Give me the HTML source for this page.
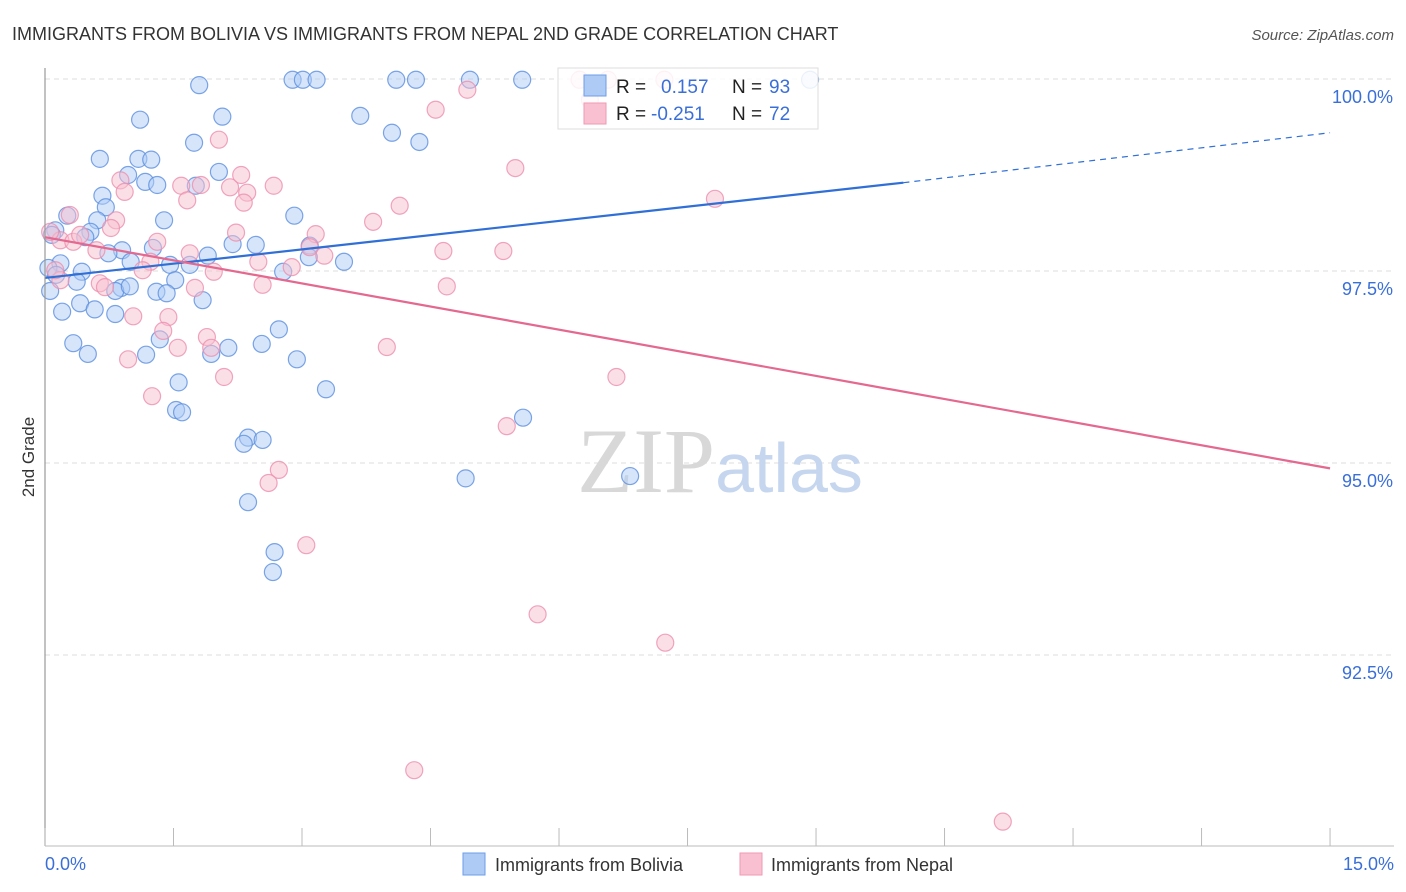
<!DOCTYPE html>
<html><head><meta charset="utf-8"><style>
body{margin:0;background:#fff;font-family:"Liberation Sans",sans-serif}
svg{display:block}
</style></head><body>
<svg width="1406" height="892" xmlns="http://www.w3.org/2000/svg">
<text x="12" y="40" font-size="18" fill="#333">IMMIGRANTS FROM BOLIVIA VS IMMIGRANTS FROM NEPAL 2ND GRADE CORRELATION CHART</text>
<text x="1394" y="40" font-size="15" fill="#555" text-anchor="end" font-style="italic">Source: ZipAtlas.com</text>
<text x="34" y="457" font-size="17" fill="#333" text-anchor="middle" transform="rotate(-90 34 457)">2nd Grade</text>
<g id="grid"></g>
<text x="720" y="492" font-size="92" fill="#d8d8d8" text-anchor="middle" font-family="Liberation Serif,serif">ZIP<tspan fill="#c5d6ee" font-family="Liberation Sans,sans-serif" font-size="70">atlas</tspan></text>
<g id="pts"></g>
<g id="lines"></g>
<line x1="45" y1="68" x2="45" y2="846" stroke="#999" stroke-width="1.2"/>
<line x1="45" y1="846" x2="1394" y2="846" stroke="#bbb"/>
<g id="xt"></g>
<text x="45" y="870" font-size="18" fill="#3a6fd8">0.0%</text>
<text x="1394" y="870" font-size="18" fill="#3a6fd8" text-anchor="end">15.0%</text>
<g>
<rect x="558" y="68" width="260" height="61" fill="#fff" fill-opacity="0.85" stroke="#ddd"/>
<rect x="584" y="75" width="22" height="21" fill="#aecbf5" stroke="#6f9ee8"/>
<rect x="584" y="103" width="22" height="21" fill="#f8c0d0" stroke="#ef9ab3"/>
<text x="616" y="93" font-size="19" fill="#222">R = </text><text x="661" y="93" font-size="19" fill="#3a6fd8">0.157</text>
<text x="732" y="93" font-size="19" fill="#222">N = </text><text x="769" y="93" font-size="19" fill="#3a6fd8">93</text>
<text x="616" y="120" font-size="19" fill="#222">R = </text><text x="651" y="120" font-size="19" fill="#3a6fd8">-0.251</text>
<text x="732" y="120" font-size="19" fill="#222">N = </text><text x="769" y="120" font-size="19" fill="#3a6fd8">72</text>
</g>
<g>
<rect x="463" y="853" width="22" height="22" fill="#aecbf5" stroke="#6f9ee8"/>
<text x="495" y="871" font-size="18" fill="#333">Immigrants from Bolivia</text>
<rect x="740" y="853" width="22" height="22" fill="#f8c0d0" stroke="#ef9ab3"/>
<text x="771" y="871" font-size="18" fill="#333">Immigrants from Nepal</text>
</g>
</svg>
<script>
const yTicks=[100,97.5,95,92.5];
const yTickLabels=["100.0%","97.5%","95.0%","92.5%"];
const xTicks=[0,1.5,3,4.5,6,7.5,9,10.5,12,13.5,15];
const boliviaX=[1.8,2.89,3.01,3.17,4.1,4.33,4.96,5.57,8.93,3.68,4.05,4.37,1.11,2.07,1.74,0.64,1.09,1.24,0.97,1.17,1.31,2.03,1.76,0.67,0.71,0.26,0.61,1.39,2.91,0.12,0.53,0.47,0.08,1.26,0.9,0.74,2.19,2.46,1.9,3.09,3.08,3.49,1.46,1.69,1.0,0.18,0.04,0.43,0.13,2.78,1.52,0.37,0.06,0.89,0.82,0.99,1.3,1.42,1.84,0.41,0.58,0.2,0.82,2.73,1.34,0.33,2.53,2.14,0.5,1.18,1.94,2.94,3.28,1.56,1.53,1.6,5.58,2.37,2.32,2.54,2.37,4.91,6.83,2.68,2.66];
const boliviaY=[99.92,99.99,99.99,99.99,99.99,99.99,99.99,99.99,99.99,99.52,99.3,99.18,99.47,99.51,99.17,98.96,98.96,98.95,98.75,98.66,98.62,98.79,98.61,98.48,98.33,98.22,98.16,98.16,98.22,98.03,98.01,97.94,97.97,97.8,97.77,97.73,97.85,97.84,97.7,97.83,97.68,97.62,97.58,97.58,97.62,97.6,97.54,97.49,97.45,97.49,97.38,97.36,97.24,97.28,97.24,97.3,97.23,97.21,97.12,97.08,97.0,96.97,96.94,96.74,96.61,96.56,96.55,96.5,96.42,96.41,96.42,96.35,95.96,96.05,95.69,95.66,95.59,95.33,95.25,95.3,94.49,94.8,94.83,93.84,93.58];
const nepalX=[6.24,6.57,7.23,6.36,4.93,4.56,2.03,5.49,0.88,0.93,1.59,1.82,2.16,2.29,2.36,2.32,2.67,1.66,4.14,3.83,7.82,0.83,0.29,0.77,0.18,0.06,0.33,0.41,1.31,2.23,3.16,3.09,4.65,5.35,1.69,0.6,1.23,1.14,2.49,2.88,3.26,1.97,2.54,0.64,1.75,0.7,4.69,0.18,0.12,1.03,1.44,1.38,1.89,1.94,1.55,3.99,0.97,2.09,6.67,1.25,5.39,2.73,2.61,3.05,5.75,7.24,4.31,11.18];
const nepalY=[99.99,99.99,99.99,99.73,99.86,99.6,99.21,98.84,98.68,98.53,98.61,98.62,98.59,98.75,98.52,98.39,98.61,98.42,98.35,98.14,98.44,98.16,98.23,98.06,97.9,98.01,97.88,97.97,97.88,98.0,97.98,97.81,97.76,97.76,97.73,97.77,97.62,97.51,97.62,97.55,97.7,97.49,97.32,97.34,97.28,97.29,97.3,97.38,97.51,96.91,96.9,96.72,96.64,96.5,96.5,96.51,96.35,96.12,96.12,95.87,95.48,94.91,94.74,93.93,93.03,92.66,91.0,90.33];
const boliviaTrend=[97.41,98.65,99.3]; // at x=0, 10.02, 15
const nepalTrend=[97.94,94.93]; // at x=0, 15
const NS="http://www.w3.org/2000/svg";
const X=v=>45+v*85.67;
const Y=v=>79+(100-v)*76.8;
function mk(t,a,p){const e=document.createElementNS(NS,t);for(const k in a)e.setAttribute(k,a[k]);p.appendChild(e);return e;}
const grid=document.getElementById('grid');
yTicks.forEach((t,i)=>{
  const l=mk('line',{x1:45,x2:1394,y1:Y(t),y2:Y(t),stroke:'#ddd','stroke-dasharray':'5,4'},grid);
  
  
  const tx=mk('text',{x:1393,y:Y(t)+24,'font-size':18,fill:'#3a6fd8','text-anchor':'end'},grid);
  tx.textContent=yTickLabels[i];
  
  
});
const xt=document.getElementById('xt');
xTicks.forEach(t=>{
  const l=mk('line',{x1:X(t),x2:X(t),y1:828,y2:846,stroke:'#bbb'},xt);
  
  
});
const pts=document.getElementById('pts');
boliviaX.forEach((v,i)=>{
  const c=mk('circle',{cx:X(v),cy:Y(boliviaY[i]),r:8.5,fill:'#aecbf5','fill-opacity':0.5,stroke:'#5b8fe0','stroke-opacity':0.8,'stroke-width':1.2},pts);
  
  
});
nepalX.forEach((v,i)=>{
  const c=mk('circle',{cx:X(v),cy:Y(nepalY[i]),r:8.5,fill:'#f8c0d0','fill-opacity':0.5,stroke:'#ec8fae','stroke-opacity':0.8,'stroke-width':1.2},pts);
  
  
});
const ln=document.getElementById('lines');
let a=mk('line',{x1:X(0),y1:Y(boliviaTrend[0]),x2:X(10.02),y2:Y(boliviaTrend[1]),stroke:'#2f6fd6','stroke-width':2.2},ln);


a=mk('line',{x1:X(10.02),y1:Y(boliviaTrend[1]),x2:X(15),y2:Y(boliviaTrend[2]),stroke:'#2f6fd6','stroke-width':1.2,'stroke-dasharray':'6,5'},ln);


a=mk('line',{x1:X(0),y1:Y(nepalTrend[0]),x2:X(15),y2:Y(nepalTrend[1]),stroke:'#e4688f','stroke-width':2.2},ln);


</script>
</body></html>
